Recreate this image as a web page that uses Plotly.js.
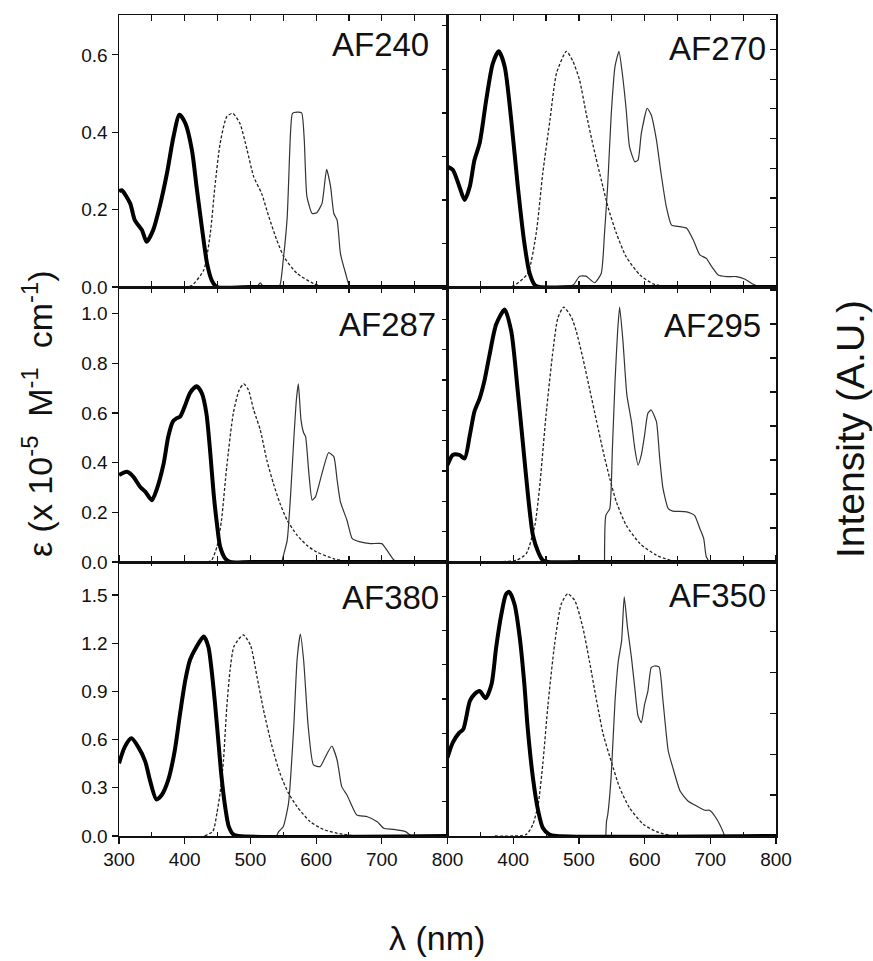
<!DOCTYPE html>
<html>
<head>
<meta charset="utf-8">
<script src="https://cdn.plot.ly/plotly-3.0.1.min.js"></script>
<style>html,body{margin:0;padding:0;background:#fff;}#chart{width:873px;height:961px;}</style>
</head>
<body>
<div id="chart"></div>
<script>
// ---------- data (wavelength in nm, values in ε units of each row) ----------
const panelNames = ["AF240", "AF270", "AF287", "AF295", "AF380", "AF350"];

const af240AbsX = [300,304,317,324,335,342,352,362,373,383,392,401,411,418,426,434,441,449,500,800];
const af240AbsY = [0.247,0.25,0.216,0.173,0.147,0.117,0.147,0.208,0.294,0.389,0.445,0.423,0.354,0.26,0.156,0.061,0.018,0,0,0];
const af240ExcX = [400,411,429,439,446,454,464,473,484,495,505,517,528,540,551,571,596,611];
const af240ExcY = [0,0.004,0.044,0.139,0.26,0.372,0.44,0.449,0.423,0.354,0.285,0.242,0.182,0.122,0.078,0.035,0.009,0];
const af240EmX = [505,510,515,520,540,545,550,556,561,564,571,578,582,586,594,601,609,616,622,627,632,637,645,652,700,800];
const af240EmY = [0,0,0.011,0,0,0.005,0.07,0.18,0.397,0.449,0.452,0.45,0.38,0.234,0.19,0.192,0.216,0.304,0.26,0.19,0.173,0.087,0.035,0,0,0];

const af270AbsX = [300,308,318,326,334,341,349,359,369,378,387,397,407,417,425,433,440,500,800];
const af270AbsY = [0.311,0.303,0.26,0.225,0.26,0.328,0.372,0.484,0.578,0.609,0.57,0.432,0.26,0.113,0.035,0.005,0,0,0];
const af270ExcX = [360,400,422,435,445,456,466,481,491,501,511,522,534,544,557,572,593,613,633];
const af270ExcY = [0,0.003,0.035,0.139,0.294,0.432,0.553,0.609,0.583,0.535,0.449,0.363,0.277,0.208,0.139,0.078,0.031,0.008,0];
const af270EmX = [440,491,501,511,524,534,539,544,549,555,561,566,572,577,585,590,595,604,610,618,625,633,641,654,664,674,684,694,702,712,725,740,753,763,776,800];
const af270EmY = [0,0.005,0.028,0.028,0.011,0.035,0.139,0.268,0.44,0.57,0.609,0.553,0.458,0.363,0.324,0.328,0.397,0.462,0.445,0.38,0.294,0.208,0.16,0.156,0.152,0.122,0.083,0.074,0.053,0.031,0.027,0.027,0.02,0.009,0,0];

const af287AbsX = [300,312,322,332,340,350,357,368,375,382,388,393,401,408,418,426,433,439,444,449,454,462,469,500,800];
const af287AbsY = [0.35,0.363,0.343,0.303,0.283,0.249,0.289,0.397,0.505,0.565,0.579,0.585,0.633,0.68,0.707,0.68,0.599,0.437,0.276,0.155,0.061,0.013,0,0,0];
const af287ExcX = [435,441,449,456,464,474,483,490,497,505,515,525,535,545,556,571,586,601,627,650];
const af287ExcY = [0,0.007,0.061,0.168,0.384,0.599,0.693,0.717,0.693,0.612,0.532,0.41,0.316,0.236,0.168,0.108,0.067,0.04,0.013,0];
const af287EmX = [548,549,556,561,566,570,573,577,581,584,589,594,599,609,619,627,632,637,647,655,667,683,700,708,718,723,800];
const af287EmY = [0,0.013,0.087,0.262,0.491,0.653,0.717,0.572,0.52,0.505,0.357,0.249,0.262,0.357,0.44,0.424,0.33,0.242,0.168,0.094,0.081,0.074,0.074,0.047,0.009,0,0];

const af295AbsX = [300,308,318,326,334,341,349,356,364,374,387,397,407,415,423,430,438,445,453,500,800];
const af295AbsY = [0.39,0.431,0.431,0.417,0.511,0.606,0.659,0.727,0.834,0.956,1.016,0.929,0.686,0.471,0.256,0.108,0.04,0.007,0,0,0];
const af295ExcX = [369,405,420,433,440,450,461,468,477,489,496,506,516,527,537,547,557,572,593,618,644];
const af295ExcY = [0,0.007,0.034,0.148,0.296,0.592,0.861,0.983,1.026,0.983,0.929,0.821,0.7,0.565,0.444,0.336,0.242,0.148,0.074,0.027,0.003];
const af295EmX = [539,541,547,551,555,559,562,567,573,580,585,590,595,600,605,610,618,623,628,636,643,664,676,684,690,694,700,800];
const af295EmY = [0,0.188,0.215,0.458,0.727,0.931,1.026,0.891,0.673,0.565,0.458,0.39,0.431,0.511,0.599,0.612,0.565,0.417,0.296,0.215,0.205,0.202,0.188,0.135,0.094,0.02,0,0];

const af380AbsX = [300,309,319,329,340,347,357,365,375,385,393,401,408,418,429,436,441,446,451,456,462,467,474,482,800];
const af380AbsY = [0.452,0.556,0.608,0.556,0.463,0.349,0.228,0.255,0.349,0.535,0.763,0.971,1.095,1.178,1.241,1.178,1.03,0.83,0.6,0.37,0.17,0.06,0.01,0,0];
const af380ExcX = [430,443,449,454,459,464,469,475,489,500,510,520,533,545,558,571,591,611,632,660];
const af380ExcY = [0,0.03,0.141,0.27,0.47,0.8,1.03,1.18,1.251,1.189,0.992,0.784,0.556,0.39,0.266,0.183,0.089,0.041,0.017,0];
const af380EmX = [540,543,550,558,566,571,576,581,588,596,606,617,624,632,639,647,655,662,678,693,703,718,736,746,800];
const af380EmY = [0,0.027,0.058,0.203,0.68,1.095,1.257,1.095,0.68,0.442,0.432,0.515,0.56,0.473,0.307,0.255,0.183,0.131,0.12,0.089,0.048,0.041,0.027,0,0];

const af350AbsX = [300,308,318,324,334,341,349,358,367,374,382,389,394,402,410,417,422,430,438,445,455,466,800];
const af350AbsY = [0.488,0.581,0.643,0.664,0.84,0.882,0.902,0.857,0.944,1.172,1.38,1.504,1.519,1.442,1.234,0.944,0.674,0.363,0.156,0.052,0.01,0,0];
const af350ExcX = [372,420,430,438,445,453,463,473,483,494,506,516,527,537,549,562,577,598,618,643];
const af350ExcY = [0,0.01,0.073,0.197,0.446,0.819,1.193,1.442,1.508,1.463,1.297,1.089,0.84,0.633,0.467,0.301,0.176,0.073,0.027,0];
const af350EmX = [541,542,544,549,555,560,565,569,574,580,585,590,595,600,605,610,615,622,628,636,643,654,666,679,692,699,710,720,722,800];
const af350EmY = [0,0.09,0.135,0.363,0.84,1.089,1.214,1.488,1.297,1.11,0.923,0.747,0.705,0.819,0.902,1.048,1.058,1.052,0.84,0.529,0.425,0.28,0.218,0.187,0.16,0.16,0.104,0.021,0,0];

const xTicks = [300, 400, 500, 600, 700, 800];
const rowYMax = [0.703, 1.107, 1.705];
const rowYDtick = [0.2, 0.2, 0.3];
const intensityMax = [6.25, 9.16, 9.07, 8.09, 8.0, 6.7];

// ---------- build ----------
const series = [
  [af240AbsX, af240AbsY, af240ExcX, af240ExcY, af240EmX, af240EmY],
  [af270AbsX, af270AbsY, af270ExcX, af270ExcY, af270EmX, af270EmY],
  [af287AbsX, af287AbsY, af287ExcX, af287ExcY, af287EmX, af287EmY],
  [af295AbsX, af295AbsY, af295ExcX, af295ExcY, af295EmX, af295EmY],
  [af380AbsX, af380AbsY, af380ExcX, af380ExcY, af380EmX, af380EmY],
  [af350AbsX, af350AbsY, af350ExcX, af350ExcY, af350EmX, af350EmY]
];

const W = 873, H = 961;
const colL = [119 / W, 447.5 / W], colR = [447.5 / W, 776 / W];
const rowPx = [[15, 287], [287, 562], [562, 836]];
const FONT = "Liberation Sans, Arial, Helvetica, sans-serif";

const traces = [];
const layout = {
  width: W, height: H,
  margin: {l: 0, r: 0, t: 0, b: 0},
  paper_bgcolor: "#fff", plot_bgcolor: "rgba(0,0,0,0)",
  showlegend: false,
  font: {family: FONT, color: "#111"},
  annotations: []
};

for (let i = 0; i < 6; i++) {
  const row = Math.floor(i / 2), col = i % 2;
  const n = i + 1;
  const xa = "x" + (n === 1 ? "" : n), ya = "y" + (n === 1 ? "" : n);
  const s = series[i];
  traces.push({x: s[2], y: s[3], xaxis: xa, yaxis: ya, mode: "lines",
    line: {color: "#222", width: 1.3, dash: "3px,2px", shape: "spline", smoothing: 0.6}, hoverinfo: "skip"});
  traces.push({x: s[4], y: s[5], xaxis: xa, yaxis: ya, mode: "lines",
    line: {color: "#333", width: 1.2, shape: "spline", smoothing: 0.5}, hoverinfo: "skip"});
  traces.push({x: s[0], y: s[1], xaxis: xa, yaxis: ya, mode: "lines",
    line: {color: "#000", width: 4, shape: "spline", smoothing: 0.7}, hoverinfo: "skip"});

  const dom = col === 0 ? colL : colR;
  const yd = [1 - rowPx[row][1] / H, 1 - rowPx[row][0] / H];
  const isBottom = row === 2;
  const xaxis = {
    domain: dom, range: [300, 800], anchor: ya,
    showline: true, linecolor: "#111", linewidth: 1.5, mirror: "ticks",
    showgrid: false, zeroline: false,
    ticks: isBottom ? "outside" : "inside", ticklen: 6, tickwidth: 1.2, tickcolor: "#111",
    tickvals: isBottom ? (col === 0 ? xTicks : xTicks.slice(1)) : [300,350,400,450,500,550,600,650,700,750,800],
    showticklabels: isBottom,
    tickfont: {family: FONT, size: 19, color: "#111"},
    fixedrange: true
  };
  if (isBottom) {
    xaxis.minor = {tickvals: [350,450,550,650,750], ticks: "inside", ticklen: 4, tickwidth: 1, tickcolor: "#111"};
  }
  layout["xaxis" + (n === 1 ? "" : n)] = xaxis;

  layout["yaxis" + (n === 1 ? "" : n)] = {
    domain: yd, range: [0, rowYMax[row]], anchor: xa,
    showline: true, linecolor: "#111", linewidth: 1.5, mirror: false,
    showgrid: false, zeroline: false,
    ticks: col === 0 ? "outside" : "", ticklen: 6, tickwidth: 1.2, tickcolor: "#111",
    dtick: rowYDtick[row], tick0: 0, tickformat: ".1f",
    showticklabels: col === 0,
    tickfont: {family: FONT, size: 19, color: "#111"},
    fixedrange: true
  };
  // intensity axis (right side, unlabeled ticks)
  const m = n + 6;
  layout["yaxis" + m] = {
    overlaying: ya, side: "right", anchor: xa,
    range: [0, intensityMax[i]], dtick: 1, tick0: 0,
    showline: true, linecolor: "#111", linewidth: 1.5,
    showgrid: false, zeroline: false,
    ticks: "inside", ticklen: 6, tickwidth: 1.2, tickcolor: "#111",
    showticklabels: false, fixedrange: true
  };
  // invisible trace so the overlay axis is drawn
  traces.push({x: [300], y: [0], xaxis: xa, yaxis: "y" + m, mode: "markers",
    marker: {opacity: 0, size: 1}, hoverinfo: "skip"});
}

// panel labels
const labelPos = [[431, 45], [768, 48.3], [438, 324], [763, 325.5], [441, 597], [768, 595]];
panelNames.forEach((name, i) => {
  layout.annotations.push({
    text: name, xref: "paper", yref: "paper",
    x: labelPos[i][0] / W, y: 1 - labelPos[i][1] / H,
    xanchor: "right", yanchor: "middle", showarrow: false,
    font: {family: FONT, size: 33, color: "#111"}
  });
});

// axis titles
layout.annotations.push({
  text: "ε (x 10<sup>-5</sup>\u00A0 M<sup>-1</sup>\u00A0 cm<sup>-1</sup>)",
  xref: "paper", yref: "paper", x: 37 / W, y: 1 - 414 / H,
  xanchor: "center", yanchor: "middle", textangle: -90, showarrow: false,
  font: {family: FONT, size: 34, color: "#111"}
});
layout.annotations.push({
  text: "Intensity (A.U.)",
  xref: "paper", yref: "paper", x: 851 / W, y: 1 - 429 / H,
  xanchor: "center", yanchor: "middle", textangle: -90, showarrow: false,
  font: {family: FONT, size: 39, color: "#111"}
});
layout.annotations.push({
  text: "λ (nm)",
  xref: "paper", yref: "paper", x: 437 / W, y: 1 - 938 / H,
  xanchor: "center", yanchor: "middle", showarrow: false,
  font: {family: FONT, size: 34, color: "#111"}
});

Plotly.newPlot("chart", traces, layout, {staticPlot: true, displayModeBar: false});
</script>
</body>
</html>
